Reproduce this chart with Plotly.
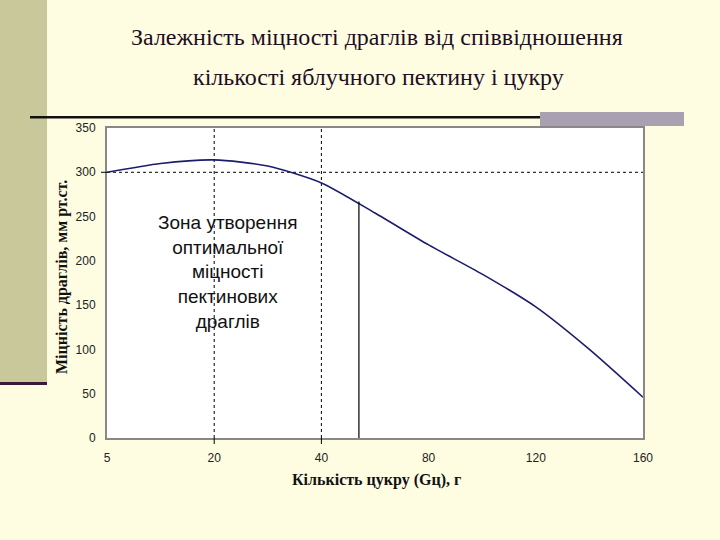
import plotly.graph_objects as go

# sugar amount ticks (equally spaced category-like axis)
sugar_ticks = ["5", "20", "40", "80", "120", "160"]
tick_pos = [0, 1, 2, 3, 4, 5]
strength_ticks = [0, 50, 100, 150, 200, 250, 300, 350]

# curve (position on sugar axis, strength mm Hg)
curve_x = [0, 0.5, 1, 1.5, 2, 2.5, 3, 3.5, 4, 4.5, 5]
curve_y = [300, 310, 314, 307, 288, 254, 218, 185, 148, 100, 46]

# optimal zone boundary
bound_x = 2.35
bound_y = 267

W, H = 720, 540
L, R, T, B = 107, 643, 128, 438


def px(x):
    return (x - L) / (R - L)


def py(y):
    return (B - y) / (B - T)


fig = go.Figure()

fig.add_trace(go.Scatter(
    x=curve_x, y=curve_y, mode="lines",
    line=dict(color="#1c1c6e", width=1.6, shape="spline", smoothing=0.7),
    showlegend=False, hoverinfo="skip"
))

fig.add_trace(go.Scatter(
    x=[bound_x, bound_x], y=[0, bound_y], mode="lines",
    line=dict(color="black", width=1.2),
    showlegend=False, hoverinfo="skip"
))

shapes = []
# dotted reference lines
for xv in [1, 2]:
    shapes.append(dict(type="line", xref="x", yref="y", x0=xv, x1=xv, y0=0, y1=350,
                       line=dict(color="black", width=1, dash="dot"), layer="below"))
    shapes.append(dict(type="line", xref="x", yref="paper", x0=xv, x1=xv, y0=0, y1=py(444),
                       line=dict(color="black", width=1)))
shapes.append(dict(type="line", xref="x", yref="y", x0=0, x1=5, y0=300, y1=300,
                   line=dict(color="black", width=1, dash="dot"), layer="below"))
shapes.append(dict(type="line", xref="paper", yref="y", x0=px(101), x1=0, y0=300, y1=300,
                   line=dict(color="black", width=1)))

# slide decorations
shapes.append(dict(type="rect", xref="paper", yref="paper", x0=px(0), x1=px(47), y0=py(0), y1=py(383),
                   fillcolor="#c8c89a", line=dict(width=0), layer="below"))
shapes.append(dict(type="rect", xref="paper", yref="paper", x0=px(0), x1=px(47), y0=py(382), y1=py(385),
                   fillcolor="#3a1838", line=dict(width=0)))
shapes.append(dict(type="rect", xref="paper", yref="paper", x0=px(30), x1=px(540), y0=py(116), y1=py(118.5),
                   fillcolor="#111111", line=dict(width=0)))
shapes.append(dict(type="rect", xref="paper", yref="paper", x0=px(540), x1=px(684), y0=py(112), y1=py(126),
                   fillcolor="#a9a1b1", line=dict(width=0)))

annotations = [
    dict(text="Залежність міцності драглів від співвідношення",
         x=px(377), y=py(37), font=dict(family="Liberation Serif", size=24, color="#1e0e1e")),
    dict(text="кількості яблучного пектину і цукру",
         x=px(378), y=py(77), font=dict(family="Liberation Serif", size=24, color="#1e0e1e")),
    dict(text="Зона утворення<br>оптимальної<br>міцності<br>пектинових<br>драглів",
         x=px(227), y=py(272), align="center",
         font=dict(family="Liberation Sans", size=19, color="#111111")),
    dict(text="<b>Міцність драглів, мм рт.ст.</b>",
         x=px(62), y=py(277), textangle=-90,
         font=dict(family="Liberation Serif", size=16, color="#111111")),
    dict(text="<b>Кількість цукру (Gц), г</b>",
         x=px(376), y=py(480),
         font=dict(family="Liberation Serif", size=16, color="#111111")),
]
for a in annotations:
    a.update(xref="paper", yref="paper", xanchor="center", yanchor="middle", showarrow=False)

fig.update_layout(
    width=W, height=H,
    margin=dict(l=L, r=W - R, t=T, b=H - B),
    paper_bgcolor="#fefde2",
    plot_bgcolor="white",
    font=dict(family="Liberation Sans", size=12, color="#222222"),
    xaxis=dict(range=[0, 5], tickvals=tick_pos, ticktext=sugar_ticks, showgrid=False, zeroline=False,
               showline=True, linecolor="#888888", linewidth=2, mirror=True,
               ticks="outside", ticklen=8, tickcolor="rgba(0,0,0,0)"),
    yaxis=dict(range=[0, 350], tickvals=strength_ticks, showgrid=False, zeroline=False,
               showline=True, linecolor="#888888", linewidth=2, mirror=True,
               ticks="outside", ticklen=7, tickcolor="rgba(0,0,0,0)"),
    shapes=shapes,
    annotations=annotations,
    showlegend=False,
)

fig.write_html("out.html", config={"displayModeBar": False},
               post_script="document.body.style.margin='0';")
